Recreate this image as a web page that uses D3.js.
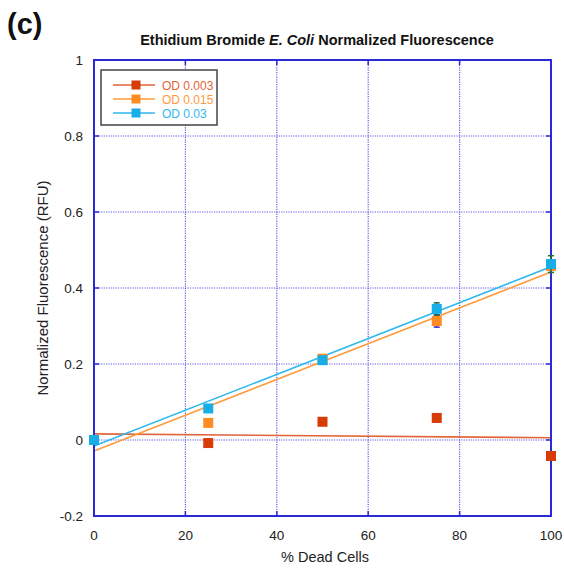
<!DOCTYPE html>
<html>
<head>
<meta charset="utf-8">
<script src="https://cdn.jsdelivr.net/npm/d3@7"></script>
<style>
  body { margin: 0; background: #fff; }
  text { font-family: "Liberation Sans", Arial, sans-serif; }
</style>
</head>
<body>
<script>
// chart data
const deadPct = [0, 25, 50, 75, 100];
const seriesNames = ["OD 0.003", "OD 0.015", "OD 0.03"];
const od003 = [0, -0.008, 0.048, 0.058, -0.042];
const od015 = [0, 0.045, 0.214, 0.313, 0.458];
const od03 = [0, 0.083, 0.21, 0.345, 0.463];
const errs003 = [0, 0, 0, 0, 0];
const errs015 = [0, 0, 0, 0.016, 0];
const errs03 = [0, 0, 0, 0.016, 0.022];
// fit lines: value at 0 and at 100
const fit003 = [0.016, 0.006];
const fit015 = [-0.029, 0.442];
const fit03 = [-0.016, 0.456];
const xTicks = [0, 20, 40, 60, 80, 100];
const yTicks = [-0.2, 0, 0.2, 0.4, 0.6, 0.8, 1];

const canvWidth = 564, canvHeight = 571;
const svg = d3.select("body").append("svg")
  .attr("width", canvWidth).attr("height", canvHeight);

const margin = {top: 60, right: 13, bottom: 55, left: 94};
const width = canvWidth - margin.left - margin.right;
const height = canvHeight - margin.top - margin.bottom;

const x = d3.scaleLinear().domain([0, 100]).range([margin.left, margin.left + width]);
const y = d3.scaleLinear().domain([-0.2, 1]).range([margin.top + height, margin.top]);

const frameColor = "#2a2ad8";
const gridColor = "#5c5ce6";
const colors = ["#d83c06", "#ff8b24", "#17aee8"];
const lineColors = ["#e2643a", "#ff9a3c", "#2fb8ec"];

// grid
const grid = svg.append("g");
grid.selectAll("line.gx").data(xTicks.slice(1, -1)).enter().append("line")
  .attr("x1", d => x(d)).attr("x2", d => x(d))
  .attr("y1", y(1)).attr("y2", y(-0.2))
  .style("stroke", gridColor).style("stroke-width", 1.2).style("stroke-dasharray", "1.2,1.2");
grid.selectAll("line.gy").data(yTicks.slice(0, -1)).enter().append("line")
  .attr("x1", x(0)).attr("x2", x(100))
  .attr("y1", d => y(d)).attr("y2", d => y(d))
  .style("stroke", gridColor).style("stroke-width", 1.2).style("stroke-dasharray", "1.2,1.2");

// fit lines
const fits = [fit003, fit015, fit03];
fits.forEach((f, k) => {
  svg.append("line")
    .attr("x1", x(0)).attr("y1", y(f[0]))
    .attr("x2", x(100)).attr("y2", y(f[1]))
    .style("stroke", lineColors[k]).style("stroke-width", 1.6);
});

// frame
svg.append("rect").attr("x", x(0)).attr("y", y(1))
  .attr("width", x(100) - x(0)).attr("height", y(-0.2) - y(1))
  .style("fill", "none").style("stroke", frameColor).style("stroke-width", 2);

// inward ticks
const tickLen = 5;
const axisG = svg.append("g").style("stroke", frameColor).style("stroke-width", 1.5);
xTicks.forEach(t => {
  axisG.append("line").attr("x1", x(t)).attr("x2", x(t)).attr("y1", y(-0.2)).attr("y2", y(-0.2) - tickLen);
  axisG.append("line").attr("x1", x(t)).attr("x2", x(t)).attr("y1", y(1)).attr("y2", y(1) + tickLen);
});
yTicks.forEach(t => {
  axisG.append("line").attr("x1", x(0)).attr("x2", x(0) + tickLen).attr("y1", y(t)).attr("y2", y(t));
  axisG.append("line").attr("x1", x(100)).attr("x2", x(100) - tickLen).attr("y1", y(t)).attr("y2", y(t));
});

// tick labels
svg.selectAll("text.xt").data(xTicks).enter().append("text")
  .text(d => d).attr("x", d => x(d)).attr("y", y(-0.2) + 24)
  .attr("font-size", "13.5px").style("text-anchor", "middle").style("fill", "#222");
svg.selectAll("text.yt").data(yTicks).enter().append("text")
  .text(d => d).attr("x", x(0) - 11).attr("y", d => y(d) + 5)
  .attr("font-size", "13.5px").style("text-anchor", "end").style("fill", "#222");

// error bars and markers
const values = [od003, od015, od03];
const errs = [errs003, errs015, errs03];
const capColors = ["#222", "#3434c8", "#1d6e3a"];
const msize = 10;
values.forEach((vals, k) => {
  const g = svg.append("g");
  vals.forEach((v, i) => {
    const e = errs[k][i];
    if (e > 0) {
      g.append("line").attr("x1", x(deadPct[i])).attr("x2", x(deadPct[i]))
        .attr("y1", y(v - e)).attr("y2", y(v + e))
        .style("stroke", capColors[k]).style("stroke-width", 1.5);
      [v - e, v + e].forEach(c => {
        g.append("line").attr("x1", x(deadPct[i]) - 3).attr("x2", x(deadPct[i]) + 3)
          .attr("y1", y(c)).attr("y2", y(c))
          .style("stroke", capColors[k]).style("stroke-width", 1.5);
      });
    }
  });
  g.selectAll("rect").data(vals).enter().append("rect")
    .attr("x", (d, i) => x(deadPct[i]) - msize / 2)
    .attr("y", d => y(d) - msize / 2)
    .attr("width", msize).attr("height", msize)
    .style("fill", colors[k]);
});

// legend
const legend = svg.append("g");
legend.append("rect").attr("x", 101).attr("y", 70).attr("width", 116).attr("height", 55)
  .style("fill", "#fff").style("stroke", "#444").style("stroke-width", 1.5);
seriesNames.forEach((name, k) => {
  const ly = 85 + k * 14;
  legend.append("line").attr("x1", 113).attr("x2", 155).attr("y1", ly).attr("y2", ly)
    .style("stroke", lineColors[k]).style("stroke-width", 1.6);
  legend.append("rect").attr("x", 136 - 4.5).attr("y", ly - 4.5).attr("width", 9).attr("height", 9)
    .style("fill", colors[k]);
  legend.append("text").text(name).attr("x", 162).attr("y", ly + 4.5)
    .attr("font-size", "12px").style("fill", lineColors[k]);
});

// titles
svg.append("text").text("(c)").attr("x", 7).attr("y", 34)
  .attr("font-size", "29px").attr("font-weight", "bold").style("fill", "#111");
const title = svg.append("text").attr("x", 317).attr("y", 45)
  .attr("font-size", "14.5px").attr("font-weight", "bold").style("text-anchor", "middle").style("fill", "#111");
title.append("tspan").text("Ethidium Bromide ");
title.append("tspan").text("E. Coli").style("font-style", "italic");
title.append("tspan").text(" Normalized Fluorescence");

svg.append("text").text("% Dead Cells").attr("x", 325).attr("y", 562)
  .attr("font-size", "14.5px").style("text-anchor", "middle").style("fill", "#222");
svg.append("text").text("Normalized Fluorescence (RFU)")
  .attr("transform", "translate(48," + y(0.4) + ") rotate(-90)")
  .attr("font-size", "15px").style("text-anchor", "middle").style("fill", "#222");
</script>
</body>
</html>
